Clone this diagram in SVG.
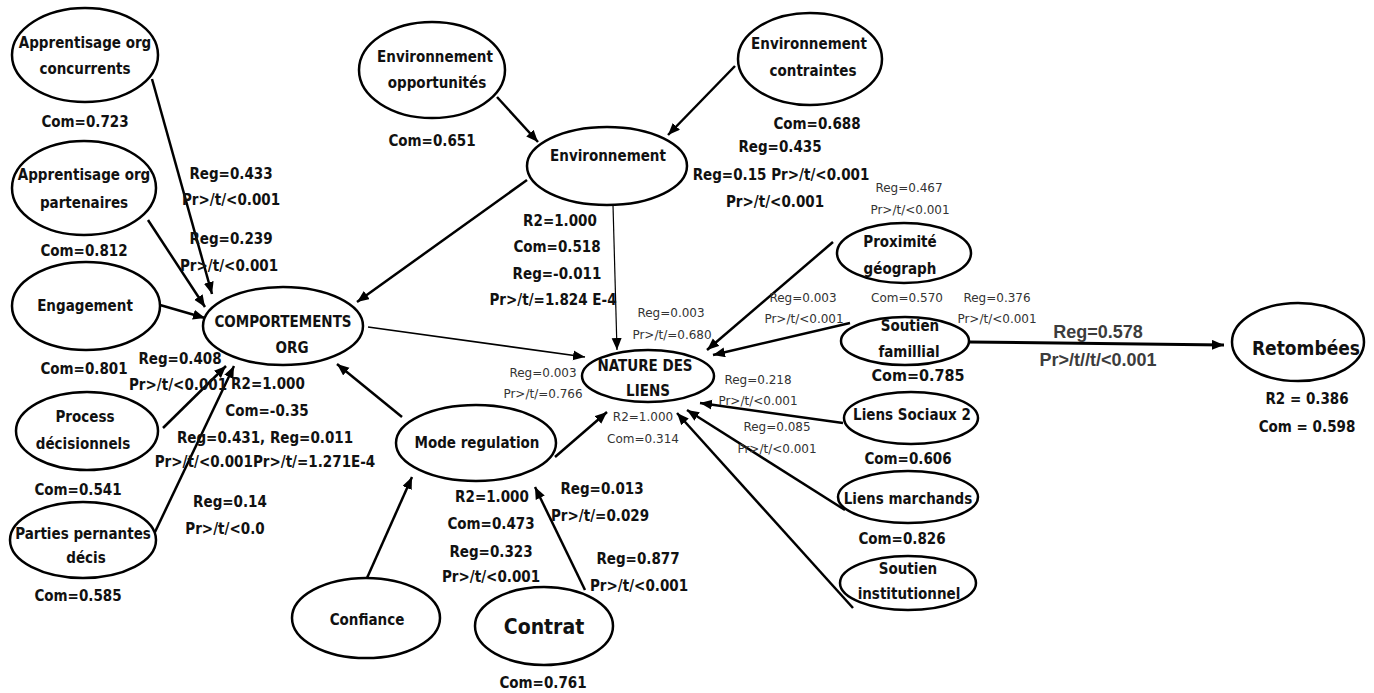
<svg xmlns="http://www.w3.org/2000/svg" width="1374" height="693" viewBox="0 0 1374 693">
<style>
.n{fill:#fff;stroke:#000;stroke-width:2.5}
.t{font-family:"DejaVu Sans Condensed","DejaVu Sans",sans-serif;font-stretch:condensed;font-weight:bold;font-size:15px;fill:#111;text-anchor:middle}
.s{font-family:"DejaVu Sans",sans-serif;font-size:12px;fill:#333;text-anchor:middle}
.g{font-family:"Liberation Sans",Arial,sans-serif;font-weight:bold;font-size:18px;fill:#3c3c3c;text-anchor:middle}
.e{fill:none;stroke:#000;stroke-width:2.5;marker-end:url(#ah)}
.thin{stroke-width:1.2}
.mid{stroke-width:1.6}
.thick{stroke-width:3}
</style>
<defs>
<marker id="ah" markerUnits="userSpaceOnUse" markerWidth="14" markerHeight="12" refX="12" refY="5" orient="auto">
<path d="M0,0 L12,5 L0,10 z" fill="#000"/>
</marker>
</defs>
<rect width="1374" height="693" fill="#fff"/>
<g id="connectors">
<path class="e" d="M152,79 L212,294"/>
<path class="e" d="M148,220 L205,307"/>
<path class="e" d="M160,305 L205,318"/>
<path class="e" d="M163,428 L226,366"/>
<path class="e" d="M155,532 L234,366"/>
<path class="e" d="M527,180 L357,302"/>
<path class="e" d="M497,97 L538,142"/>
<path class="e" d="M735,66 L668,135"/>
<path class="e thin" d="M613,205 L617,350"/>
<path class="e mid" d="M368,327 L585,357"/>
<path class="e" d="M402,417 L337,364"/>
<path class="e" d="M555,457 L607,412"/>
<path class="e" d="M367,578 L412,477"/>
<path class="e" d="M585,590 L535,487"/>
<path class="e" d="M833,242 L707,350"/>
<path class="e" d="M850,323 L713,355"/>
<path class="e" d="M843,423 L700,403"/>
<path class="e" d="M845,510 L687,410"/>
<path class="e" d="M853,608 L677,413"/>
<path class="e thick" d="M969,342 L1224,345"/>
<text class="t" x="231" y="179">Reg=0.433</text>
<text class="t" x="231" y="205">Pr&gt;/t/&lt;0.001</text>
<text class="t" x="231" y="244">Reg=0.239</text>
<text class="t" x="229" y="271">Pr&gt;/t/&lt;0.001</text>
<text class="t" x="180" y="364">Reg=0.408</text>
<text class="t" x="178" y="390">Pr&gt;/t/&lt;0.001</text>
<text class="t" x="265" y="443">Reg=0.431, Reg=0.011</text>
<text class="t" x="265" y="467">Pr&gt;/t/&lt;0.001Pr&gt;/t/=1.271E-4</text>
<text class="t" x="230" y="507">Reg=0.14</text>
<text class="t" x="225" y="534">Pr&gt;/t/&lt;0.0</text>
<text class="t" x="557" y="279">Reg=-0.011</text>
<text class="t" x="553" y="305">Pr&gt;/t/=1.824 E-4</text>
<text class="t" x="780" y="152">Reg=0.435</text>
<text class="t" x="781" y="180">Reg=0.15 Pr&gt;/t/&lt;0.001</text>
<text class="t" x="775" y="207">Pr&gt;/t/&lt;0.001</text>
<text class="s" x="909" y="192">Reg=0.467</text>
<text class="s" x="910" y="214">Pr&gt;/t/&lt;0.001</text>
<text class="s" x="671" y="317">Reg=0.003</text>
<text class="s" x="672" y="339">Pr&gt;/t/=0.680</text>
<text class="s" x="543" y="377">Reg=0.003</text>
<text class="s" x="543" y="398">Pr&gt;/t/=0.766</text>
<text class="s" x="803" y="302">Reg=0.003</text>
<text class="s" x="804" y="323">Pr&gt;/t/&lt;0.001</text>
<text class="s" x="997" y="302">Reg=0.376</text>
<text class="s" x="997" y="323">Pr&gt;/t/&lt;0.001</text>
<text class="s" x="758" y="384">Reg=0.218</text>
<text class="s" x="758" y="405">Pr&gt;/t/&lt;0.001</text>
<text class="s" x="777" y="431">Reg=0.085</text>
<text class="s" x="777" y="453">Pr&gt;/t/&lt;0.001</text>
<text class="t" x="491" y="557">Reg=0.323</text>
<text class="t" x="491" y="582">Pr&gt;/t/&lt;0.001</text>
<text class="t" x="602" y="494">Reg=0.013</text>
<text class="t" x="600" y="521">Pr&gt;/t/=0.029</text>
<text class="t" x="638" y="564">Reg=0.877</text>
<text class="t" x="639" y="591">Pr&gt;/t/&lt;0.001</text>
<text class="g" x="1098" y="338">Reg=0.578</text>
<text class="g" x="1098" y="366">Pr&gt;/t//t/&lt;0.001</text>
</g>
<g id="n-app-conc">
<ellipse class="n" cx="85" cy="55" rx="73" ry="47"/>
<text class="t" x="85" y="48">Apprentisage org</text>
<text class="t" x="85" y="74">concurrents</text>
<text class="t" x="85" y="127">Com=0.723</text>
</g>
<g id="n-app-part">
<ellipse class="n" cx="84" cy="188" rx="72" ry="47"/>
<text class="t" x="84" y="180">Apprentisage org</text>
<text class="t" x="84" y="208">partenaires</text>
<text class="t" x="84" y="256">Com=0.812</text>
</g>
<g id="n-engagement">
<ellipse class="n" cx="86" cy="306" rx="74" ry="44"/>
<text class="t" x="85" y="311">Engagement</text>
<text class="t" x="84" y="374">Com=0.801</text>
</g>
<g id="n-process">
<ellipse class="n" cx="87" cy="431" rx="71" ry="39"/>
<text class="t" x="85" y="422">Process</text>
<text class="t" x="83" y="449">décisionnels</text>
<text class="t" x="78" y="495">Com=0.541</text>
</g>
<g id="n-parties">
<ellipse class="n" cx="83" cy="540" rx="73" ry="38"/>
<text class="t" x="83" y="539">Parties pernantes</text>
<text class="t" x="86" y="563">décis</text>
<text class="t" x="78" y="601">Com=0.585</text>
</g>
<g id="n-comportements">
<ellipse class="n" cx="283" cy="326" rx="80" ry="39"/>
<text class="t" x="283" y="327">COMPORTEMENTS</text>
<text class="t" x="292" y="353">ORG</text>
<text class="t" x="268" y="389">R2=1.000</text>
<text class="t" x="267" y="416">Com=-0.35</text>
</g>
<g id="n-env-opp">
<ellipse class="n" cx="432" cy="70" rx="73" ry="48"/>
<text class="t" x="435" y="62">Environnement</text>
<text class="t" x="437" y="88">opportunités</text>
<text class="t" x="432" y="146">Com=0.651</text>
</g>
<g id="n-environnement">
<ellipse class="n" cx="607" cy="166" rx="80" ry="39"/>
<text class="t" x="608" y="161">Environnement</text>
<text class="t" x="560" y="226">R2=1.000</text>
<text class="t" x="557" y="252">Com=0.518</text>
</g>
<g id="n-env-contr">
<ellipse class="n" cx="810" cy="59" rx="72" ry="46"/>
<text class="t" x="809" y="49">Environnement</text>
<text class="t" x="813" y="76">contraintes</text>
<text class="t" x="817" y="129">Com=0.688</text>
</g>
<g id="n-proximite">
<ellipse class="n" cx="904" cy="253" rx="67" ry="30"/>
<text class="t" x="900" y="247">Proximité</text>
<text class="t" x="900" y="274">géograph</text>
<text class="s" x="907" y="302">Com=0.570</text>
</g>
<g id="n-soutien-fam">
<ellipse class="n" cx="905" cy="341" rx="64" ry="24"/>
<text class="t" x="910" y="331">Soutien</text>
<text class="t" x="909" y="357">famillial</text>
<text class="t" x="918" y="381" style="font-size:16px">Com=0.785</text>
</g>
<g id="n-liens-sociaux">
<ellipse class="n" cx="911" cy="418" rx="67" ry="26"/>
<text class="t" x="912" y="420">Liens Sociaux 2</text>
<text class="t" x="908" y="464">Com=0.606</text>
</g>
<g id="n-liens-marchands">
<ellipse class="n" cx="908" cy="497" rx="70" ry="26"/>
<text class="t" x="908" y="504">Liens marchands</text>
<text class="t" x="902" y="544">Com=0.826</text>
</g>
<g id="n-soutien-inst">
<ellipse class="n" cx="908" cy="583" rx="68" ry="27"/>
<text class="t" x="908" y="574">Soutien</text>
<text class="t" x="909" y="599">institutionnel</text>
</g>
<g id="n-nature">
<ellipse class="n" cx="648" cy="376" rx="66" ry="26"/>
<text class="t" x="645" y="371">NATURE DES</text>
<text class="t" x="648" y="396">LIENS</text>
<text class="s" x="643" y="421">R2=1.000</text>
<text class="s" x="643" y="443">Com=0.314</text>
</g>
<g id="n-mode">
<ellipse class="n" cx="476" cy="443" rx="80" ry="38"/>
<text class="t" x="477" y="448">Mode regulation</text>
<text class="t" x="492" y="502">R2=1.000</text>
<text class="t" x="491" y="529">Com=0.473</text>
</g>
<g id="n-confiance">
<ellipse class="n" cx="366" cy="618" rx="74" ry="40"/>
<text class="t" x="367" y="625">Confiance</text>
</g>
<g id="n-contrat">
<ellipse class="n" cx="544" cy="626" rx="69" ry="39"/>
<text class="t" x="544" y="634" style="font-size:21px">Contrat</text>
<text class="t" x="543" y="688">Com=0.761</text>
</g>
<g id="n-retombees">
<ellipse class="n" cx="1298" cy="342" rx="66" ry="39"/>
<text class="t" x="1306" y="355" style="font-size:19px;font-weight:600">Retombées</text>
<text class="t" x="1307" y="404">R2 = 0.386</text>
<text class="t" x="1307" y="432">Com = 0.598</text>
</g>
</svg>
